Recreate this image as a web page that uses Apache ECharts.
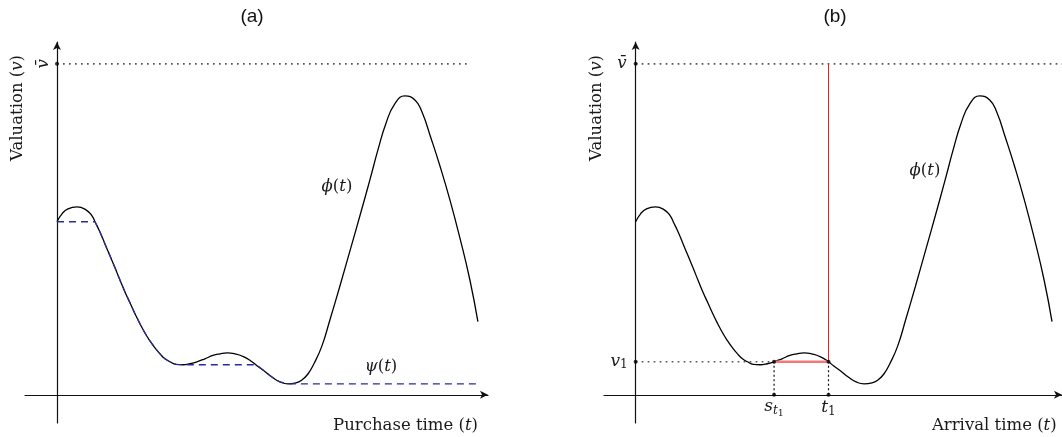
<!DOCTYPE html>
<html><head><meta charset="utf-8">
<script src="https://cdn.jsdelivr.net/npm/echarts@6/dist/echarts.min.js"></script>
<style>html,body{margin:0;padding:0;background:#fff}#c{width:1062px;height:437px}</style>
</head><body><div id="c"></div>
<script>
// ---- data (t: time, v: valuation, v̄ = 1) ----
const phiT = [0, 0.119, 0.261, 0.475, 0.689, 0.831, 0.903, 1.021, 1.140, 1.259, 1.378, 1.496, 1.615, 1.734, 1.853, 1.971, 2.090, 2.209, 2.328, 2.447, 2.565, 2.684, 2.827, 2.993, 3.159, 3.325, 3.515, 3.705, 3.872, 4.038, 4.228, 4.442, 4.632, 4.751, 4.917, 5.107, 5.297, 5.487, 5.677, 5.819, 5.962, 6.105, 6.295, 6.485, 6.722, 6.960, 7.197, 7.435, 7.625, 7.815, 8.029, 8.266, 8.504, 8.670, 8.884, 9.097, 9.335, 9.572, 9.810, 10.0];
const phiV = [0.523, 0.547, 0.562, 0.568, 0.559, 0.541, 0.523, 0.492, 0.456, 0.420, 0.384, 0.347, 0.311, 0.278, 0.245, 0.215, 0.187, 0.163, 0.142, 0.124, 0.109, 0.100, 0.092, 0.091, 0.094, 0.100, 0.109, 0.119, 0.124, 0.127, 0.124, 0.115, 0.100, 0.088, 0.073, 0.054, 0.039, 0.033, 0.036, 0.045, 0.063, 0.094, 0.148, 0.227, 0.329, 0.435, 0.541, 0.650, 0.740, 0.820, 0.880, 0.903, 0.891, 0.855, 0.776, 0.692, 0.589, 0.474, 0.347, 0.221];
const psiT = [0, 0.903, 1.021, 1.140, 1.259, 1.378, 1.496, 1.615, 1.734, 1.853, 1.971, 2.090, 2.209, 2.328, 2.447, 2.565, 2.684, 2.827, 2.993, 4.74, 4.917, 5.107, 5.297, 5.487, 9.98];
const psiV = [0.523, 0.523, 0.492, 0.456, 0.420, 0.384, 0.347, 0.311, 0.278, 0.245, 0.215, 0.187, 0.163, 0.142, 0.124, 0.109, 0.100, 0.092, 0.091, 0.091, 0.073, 0.054, 0.039, 0.033, 0.033];
const vBar = 1;
const v1 = 0.100;
const sT1 = 3.325;
const t1 = 4.632;
const panelTitles = ['(a)', '(b)'];
const xNames = ['Purchase time', 'Arrival time'];
const yName = 'Valuation';

// ---- styles ----
const SERIF = '"DejaVu Serif", "Liberation Serif", serif';
const FS = 16.5;
const TXT = '#1a1a1a';
const dotted = {color: '#555', width: 1.7, type: [1.7, 4.3]};
const pair = (ts, vs) => ts.map((t, i) => [t, vs[i]]);

function xAx(gi) {
  return {type: 'value', gridIndex: gi, min: -0.76, max: 10.24,
    axisLine: {show: true, onZero: true, symbol: ['none', 'arrow'], symbolSize: [6, 8], lineStyle: {color: '#111', width: 1.2}},
    axisTick: {show: false}, axisLabel: {show: false}, splitLine: {show: false}};
}
function yAx(gi) {
  return {type: 'value', gridIndex: gi, min: -0.085, max: 1.066,
    axisLine: {show: true, onZero: true, symbol: ['none', 'arrow'], symbolSize: [6, 8], lineStyle: {color: '#111', width: 1.2}},
    axisTick: {show: false}, axisLabel: {show: false}, splitLine: {show: false}};
}
function ln(gi, data, style, z, smooth) {
  return {type: 'line', xAxisIndex: gi, yAxisIndex: gi, data, showSymbol: false, silent: true,
    smooth: smooth || false, lineStyle: style, z: z || 2, animation: false};
}
function dots(gi, data) {
  return {type: 'scatter', xAxisIndex: gi, yAxisIndex: gi, data, symbol: 'circle', symbolSize: 4,
    itemStyle: {color: '#000'}, silent: true, z: 6, animation: false};
}

const chart = echarts.init(document.getElementById('c'), null, {renderer: 'canvas'});
const phi = pair(phiT, phiV);
chart.setOption({
  animation: false,
  grid: [
    {left: 25, top: 42, width: 463, height: 381},
    {left: 604, top: 42, width: 463, height: 381}
  ],
  xAxis: [xAx(0), xAx(1)],
  yAxis: [yAx(0), yAx(1)],
  series: [
    // panel (a)
    ln(0, [[0, vBar], [9.76, vBar]], dotted, 1),
    ln(0, phi, {color: '#000', width: 1.3}, 3, 0.5),
    ln(0, pair(psiT, psiV), {color: '#2a2aa0', width: 1.3, type: [7, 5]}, 4),
    dots(0, [[0, vBar]]),
    // panel (b)
    ln(1, [[0, vBar], [10.3, vBar]], dotted, 1),
    ln(1, [[0, v1], [sT1, v1]], dotted, 1),
    ln(1, [[sT1, 0], [sT1, v1]], {color: '#111', width: 1.2, type: [2, 2.5]}, 1),
    ln(1, [[t1, 0], [t1, v1]], {color: '#111', width: 1.2, type: [2, 2.5]}, 1),
    ln(1, phi, {color: '#000', width: 1.3}, 3, 0.5),
    ln(1, [[sT1, v1], [t1, v1]], {color: '#f07a7a', width: 2.4}, 4),
    ln(1, [[t1, v1], [t1, vBar]], {color: '#e52222', width: 1}, 4),
    dots(1, [[0, vBar], [0, v1], [sT1, 0], [t1, 0], [sT1, v1], [t1, v1]])
  ]
});

// ---- text ----
const mctx = document.createElement('canvas').getContext('2d');
const fontStr = p => `${p.italic ? 'italic ' : ''}${p.size}px ${SERIF}`;
function mathParts(parts, ax, cy, align) {
  let w = 0;
  parts.forEach(p => { mctx.font = fontStr(p); p.w = mctx.measureText(p.t).width; w += p.w; });
  let x = align === 'right' ? ax - w : ax - w / 2;
  const els = [];
  parts.forEach(p => {
    els.push({type: 'text', x, y: cy + (p.dy || 0), silent: true, z: 10,
      style: {text: p.t, font: fontStr(p), fill: TXT, align: 'left', verticalAlign: 'middle'}});
    x += p.w;
  });
  return els;
}
const rich = {
  r: {fontFamily: SERIF, fontSize: FS, color: TXT},
  i: {fontFamily: SERIF, fontSize: FS, fontStyle: 'italic', color: TXT}
};
function rt(x, y, text, align, rotation) {
  const el = {type: 'text', x, y, silent: true, z: 10,
    style: {text, rich, fill: TXT, font: `${FS}px ${SERIF}`, align: align || 'center', verticalAlign: 'middle'}};
  if (rotation) el.rotation = rotation;
  return el;
}
const px = (gi, pt) => chart.convertToPixel({gridIndex: gi}, pt);

const els = [];
const titleStyle = {font: '19px "Liberation Sans", Arial, sans-serif', fill: '#111', align: 'center', verticalAlign: 'middle'};
els.push({type: 'text', x: 252, y: 17, style: Object.assign({text: panelTitles[0]}, titleStyle)});
els.push({type: 'text', x: 835, y: 17, style: Object.assign({text: panelTitles[1]}, titleStyle)});

[0, 1].forEach(gi => {
  const o = px(gi, [0, 0]);
  els.push(rt(o[0] - 39, 108, `{r|${yName} (}{i|v}{r|)}`, 'center', Math.PI / 2));
  els.push(rt(o[0] + 421, 426, `{r|${xNames[gi]} (}{i|t}{r|)}`, 'right'));
});

// panel (a) annotations
const a_vb = px(0, [0, vBar]);
els.push({type: 'text', x: a_vb[0] - 13, y: a_vb[1], rotation: Math.PI / 2, silent: true,
  style: {text: 'v\u0304', font: `italic ${FS}px ${SERIF}`, fill: TXT, align: 'center', verticalAlign: 'middle'}});
els.push(rt(337, 187, '{i|\u03d5}{r|(}{i|t}{r|)}'));
els.push(rt(381, 367, '{i|\u03c8}{r|(}{i|t}{r|)}'));

// panel (b) annotations
const b_vb = px(1, [0, vBar]);
els.push({type: 'text', x: b_vb[0] - 9, y: b_vb[1], silent: true,
  style: {text: 'v\u0304', font: `italic ${FS}px ${SERIF}`, fill: TXT, align: 'right', verticalAlign: 'middle'}});
const b_v1 = px(1, [0, v1]);
els.push(...mathParts([{t: 'v', size: 17, italic: true}, {t: '1', size: 12, dy: 3}], b_v1[0] - 8, b_v1[1], 'right'));
const b_s = px(1, [sT1, 0]);
els.push(...mathParts([{t: 's', size: 17, italic: true}, {t: 't', size: 12, italic: true, dy: 4}, {t: '1', size: 9.5, dy: 7}], b_s[0], b_s[1] + 12));
const b_t = px(1, [t1, 0]);
els.push(...mathParts([{t: 't', size: 17, italic: true}, {t: '1', size: 12, dy: 4}], b_t[0], b_t[1] + 13));
els.push(rt(925, 171, '{i|\u03d5}{r|(}{i|t}{r|)}'));

chart.setOption({graphic: {elements: els}});
</script>
</body></html>
